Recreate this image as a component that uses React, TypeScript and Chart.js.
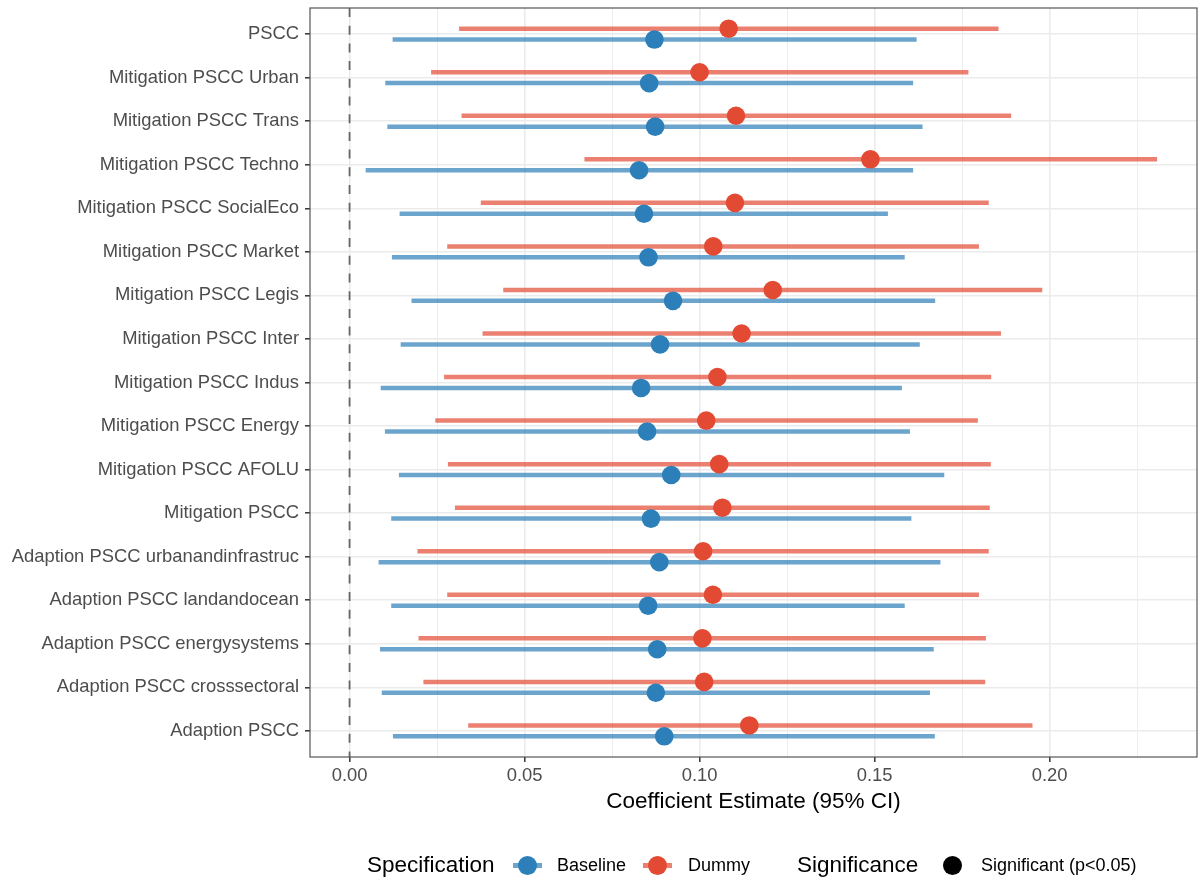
import React, { useEffect, useRef } from "react";
import { Chart, registerables } from "chart.js";

Chart.register(...registerables);

const categories = [
  "PSCC",
  "Mitigation PSCC Urban",
  "Mitigation PSCC Trans",
  "Mitigation PSCC Techno",
  "Mitigation PSCC SocialEco",
  "Mitigation PSCC Market",
  "Mitigation PSCC Legis",
  "Mitigation PSCC Inter",
  "Mitigation PSCC Indus",
  "Mitigation PSCC Energy",
  "Mitigation PSCC AFOLU",
  "Mitigation PSCC",
  "Adaption PSCC urbanandinfrastruc",
  "Adaption PSCC landandocean",
  "Adaption PSCC energysystems",
  "Adaption PSCC crosssectoral",
  "Adaption PSCC",
];

const baselineEst = [0.0871, 0.0856, 0.0873, 0.0827, 0.0841, 0.0854, 0.0924, 0.0887, 0.0833, 0.085, 0.0919, 0.0861, 0.0885, 0.0853, 0.0879, 0.0875, 0.0899];
const baselineLo = [0.0123, 0.0102, 0.0108, 0.0046, 0.0143, 0.0121, 0.0177, 0.0146, 0.0089, 0.0101, 0.0141, 0.0119, 0.0083, 0.0119, 0.0087, 0.0092, 0.0124];
const baselineHi = [0.162, 0.161, 0.1637, 0.161, 0.1538, 0.1586, 0.1673, 0.1629, 0.1578, 0.1601, 0.1699, 0.1605, 0.1688, 0.1586, 0.1669, 0.1658, 0.1672];

const dummyEst = [0.1083, 0.1, 0.1104, 0.1488, 0.1101, 0.1039, 0.1209, 0.112, 0.1051, 0.1019, 0.1056, 0.1065, 0.101, 0.1038, 0.1008, 0.1013, 0.1142];
const dummyLo = [0.0313, 0.0233, 0.032, 0.0671, 0.0375, 0.0279, 0.0439, 0.038, 0.027, 0.0245, 0.0281, 0.0301, 0.0194, 0.0279, 0.0197, 0.0211, 0.0339];
const dummyHi = [0.1854, 0.1768, 0.189, 0.2307, 0.1826, 0.1798, 0.1979, 0.1861, 0.1833, 0.1795, 0.1832, 0.1829, 0.1826, 0.1798, 0.1818, 0.1816, 0.1951];

const xMajorTicks = [0, 0.05, 0.1, 0.15, 0.2];
const xMinorTicks = [0.025, 0.075, 0.125, 0.175, 0.225];

const X_MIN = -0.0113;
const X_MAX = 0.2421;
const DODGE = 0.125;

const BLUE = "#2c7fb8";
const RED = "#e34a33";
const BLUE_LINE = "rgba(44,127,184,0.7)";
const RED_LINE = "rgba(227,74,51,0.7)";
const FONT = "'Liberation Sans', Arial, sans-serif";

const isMajor = (v: number) => xMajorTicks.some((m) => Math.abs(m - v) < 1e-9);

const panelPlugin = {
  id: "panelDecor",
  beforeDatasetsDraw(chart: any) {
    const { ctx, chartArea, scales } = chart;
    const x0 = scales.x.getPixelForValue(0);
    ctx.save();
    ctx.strokeStyle = "#666666";
    ctx.lineWidth = 1.8;
    ctx.setLineDash([9, 8.7]);
    ctx.beginPath();
    ctx.moveTo(x0, chartArea.top);
    ctx.lineTo(x0, chartArea.bottom);
    ctx.stroke();
    ctx.restore();
  },
  afterDatasetsDraw(chart: any) {
    const { ctx, chartArea } = chart;
    ctx.save();
    ctx.strokeStyle = "#555555";
    ctx.lineWidth = 1.2;
    ctx.strokeRect(chartArea.left, chartArea.top, chartArea.right - chartArea.left, chartArea.bottom - chartArea.top);
    ctx.restore();
  },
};

function LegendKey({ left, line, dot }: { left: number; line?: string; dot: string }) {
  return (
    <>
      {line && (
        <div style={{ position: "absolute", left, top: 862.5, width: 29, height: 5, background: line }} />
      )}
      <div
        style={{
          position: "absolute",
          left: left + 14.5 - 9.5,
          top: 865 - 9.5,
          width: 19,
          height: 19,
          borderRadius: "50%",
          background: dot,
        }}
      />
    </>
  );
}

function Txt({ left, size, children }: { left: number; size: number; children: React.ReactNode }) {
  return (
    <span
      style={{
        position: "absolute",
        left,
        top: 850,
        height: 30,
        lineHeight: "30px",
        fontSize: size,
        fontFamily: FONT,
        color: "#000",
        whiteSpace: "nowrap",
      }}
    >
      {children}
    </span>
  );
}

export default function App() {
  const canvasRef = useRef<HTMLCanvasElement | null>(null);

  useEffect(() => {
    if (!canvasRef.current) return;
    const segDatasets: any[] = [];
    categories.forEach((_, i) => {
      segDatasets.push({
        label: "Dummy CI " + i,
        data: [
          { x: dummyLo[i], y: i - DODGE },
          { x: dummyHi[i], y: i - DODGE },
        ],
        showLine: true,
        borderColor: RED_LINE,
        borderWidth: 4.5,
        pointRadius: 0,
        pointHoverRadius: 0,
        order: 2,
      });
      segDatasets.push({
        label: "Baseline CI " + i,
        data: [
          { x: baselineLo[i], y: i + DODGE },
          { x: baselineHi[i], y: i + DODGE },
        ],
        showLine: true,
        borderColor: BLUE_LINE,
        borderWidth: 4.5,
        pointRadius: 0,
        pointHoverRadius: 0,
        order: 2,
      });
    });

    const chart = new Chart(canvasRef.current, {
      type: "scatter",
      data: {
        datasets: [
          {
            label: "Baseline",
            data: categories.map((_, i) => ({ x: baselineEst[i], y: i + DODGE })),
            backgroundColor: BLUE,
            borderWidth: 0,
            pointRadius: 9.3,
            order: 0,
          },
          {
            label: "Dummy",
            data: categories.map((_, i) => ({ x: dummyEst[i], y: i - DODGE })),
            backgroundColor: RED,
            borderWidth: 0,
            pointRadius: 9.3,
            order: 0,
          },
          ...segDatasets,
        ],
      },
      options: {
        animation: false,
        responsive: false,
        maintainAspectRatio: false,
        layout: { autoPadding: false, padding: { left: 0, top: 8, right: 3, bottom: 62 } },
        plugins: { legend: { display: false }, tooltip: { enabled: false } },
        scales: {
          x: {
            type: "linear",
            min: X_MIN,
            max: X_MAX,
            afterBuildTicks: (s: any) => {
              s.ticks = [...xMajorTicks, ...xMinorTicks].sort((a, b) => a - b).map((v) => ({ value: v }));
            },
            afterFit: (s: any) => {
              s.height = 60;
              s.paddingLeft = 0;
              s.paddingRight = 0;
            },
            ticks: {
              autoSkip: false,
              maxRotation: 0,
              padding: 3,
              color: "#4d4d4d",
              font: { family: FONT, size: 18.4 },
              callback: (v: any) => (isMajor(Number(v)) ? Number(v).toFixed(2) : ""),
            },
            grid: {
              color: "#ebebeb",
              lineWidth: (ctx: any) => (ctx.tick && isMajor(ctx.tick.value) ? 1.6 : 0.9),
              tickLength: 5,
              tickWidth: 1.5,
              tickColor: (ctx: any) => (ctx.tick && isMajor(ctx.tick.value) ? "#333333" : "rgba(0,0,0,0)"),
            },
            border: { display: false },
            title: {
              display: true,
              text: "Coefficient Estimate (95% CI)",
              color: "#000",
              font: { family: FONT, size: 22.5 },
              padding: { top: 4, bottom: 2 },
            },
          },
          y: {
            type: "linear",
            min: -0.6,
            max: categories.length - 1 + 0.6,
            reverse: true,
            afterBuildTicks: (s: any) => {
              s.ticks = categories.map((_, i) => ({ value: i }));
            },
            afterFit: (s: any) => {
              s.width = 310;
              s.paddingTop = 0;
              s.paddingBottom = 0;
            },
            ticks: {
              autoSkip: false,
              padding: 6,
              color: "#4d4d4d",
              font: { family: FONT, size: 18.4 },
              callback: (v: any) => categories[Number(v)] ?? "",
            },
            grid: {
              color: "#ebebeb",
              lineWidth: 1.6,
              tickLength: 5,
              tickWidth: 1.5,
              tickColor: "#333333",
            },
            border: { display: false },
          },
        },
      },
      plugins: [panelPlugin],
    } as any);

    return () => chart.destroy();
  }, []);

  return (
    <div style={{ position: "absolute", left: 0, top: 0, width: 1200, height: 879, background: "#fff" }}>
      <canvas ref={canvasRef} width={1200} height={879} style={{ position: "absolute", left: 0, top: 0 }} />
      <Txt left={367} size={22.5}>Specification</Txt>
      <LegendKey left={513} line={BLUE_LINE} dot={BLUE} />
      <Txt left={557} size={18}>Baseline</Txt>
      <LegendKey left={643} line={RED_LINE} dot={RED} />
      <Txt left={688} size={18}>Dummy</Txt>
      <Txt left={797} size={22.5}>Significance</Txt>
      <LegendKey left={938} dot="#000" />
      <Txt left={981} size={18}>Significant (p&lt;0.05)</Txt>
    </div>
  );
}
